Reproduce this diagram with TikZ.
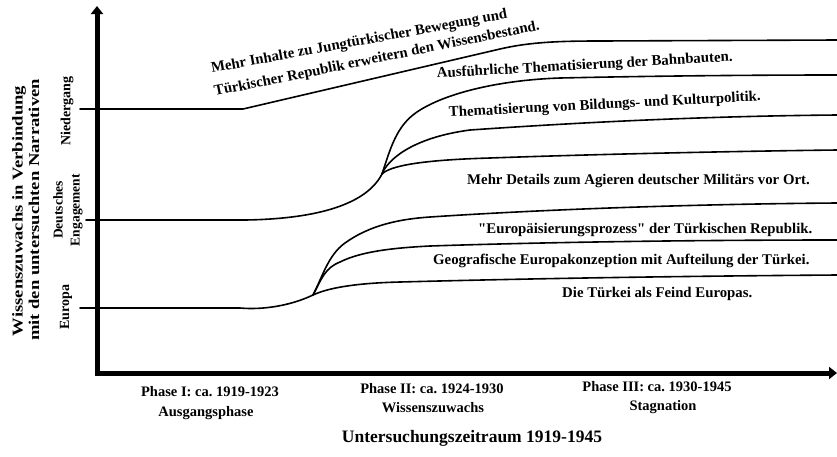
\documentclass[tikz,border=0pt]{standalone}
\usepackage{fontspec}
\setmainfont{Liberation Serif}
\newfontfamily\qfont{Liberation Serif}
\usetikzlibrary{arrows.meta}
\newcommand{\sq}{{\qfont\bfseries"}}
\begin{document}
\frenchspacing
\begin{tikzpicture}[x=1pt,y=-1pt,
  curve/.style={line width=1.6pt, line cap=round, line join=round},
  axisline/.style={line width=5pt},
  lbl/.style={font=\fontsize{14.8}{17}\selectfont\bfseries, inner sep=0pt, anchor=base west},
  phase/.style={font=\fontsize{14.5}{17}\selectfont\bfseries, inner sep=0pt, anchor=base},
  ylbl/.style={font=\fontsize{14}{15}\selectfont\bfseries, inner sep=0pt, rotate=90, align=center},
  ytitle/.style={font=\fontsize{15}{15}\selectfont\bfseries, inner sep=0pt, rotate=90},
]
\useasboundingbox (0,0) rectangle (837,456);
\fill[white] (0,0) rectangle (837,456);

% branch points
\coordinate (B) at (382,174);
\coordinate (C) at (313,295);

% top line (Niedergang)
\draw[curve] (80,109) -- (243,109) -- (500,49) .. controls (530,42) and (560,41) .. (600,41) -- (837,40);

% middle family (Deutsches Engagement)
\draw[curve] (86,220) -- (245,220) .. controls (310,219) and (365,207) .. (B);
\draw[curve] (B) .. controls (390,150) and (396,126) .. (417,112) .. controls (445,93) and (500,80) .. (560,78) .. controls (650,76) and (750,75) .. (837,75);
\draw[curve] (B) .. controls (387,161) and (410,138) .. (470,130) .. controls (600,121) and (720,116) .. (837,115);
\draw[curve] (B) .. controls (390,166) and (420,160) .. (490,158) .. controls (600,154) and (750,151) .. (837,150);

% bottom family (Europa)
\draw[curve] (80,308) -- (240,308) .. controls (262,310) and (290,306) .. (C);
\draw[curve] (C) .. controls (322,278) and (328,255) .. (345,243) .. controls (370,225) and (400,219) .. (430,217) .. controls (550,209) and (700,204) .. (837,203);
\draw[curve] (C) .. controls (322,278) and (325,268) .. (340,262) .. controls (360,252) and (390,248) .. (430,246) .. controls (550,242) and (700,240) .. (837,240);
\draw[curve] (C) .. controls (330,287) and (360,283) .. (400,282) .. controls (550,278) and (700,276) .. (837,275);

% axes
\draw[axisline, {Triangle[length=8pt,width=12pt]}-{Triangle[length=8pt,width=12pt]}] (97,6) -- (97,373) -- (837,373);

% curve labels
\node[lbl, rotate=10.5] (t1) at (212,73) {Mehr Inhalte zu Jungtürkischer Bewegung und};
\node[lbl, rotate=11.5] (t2) at (215,96) {Türkischer Republik erweitern den Wissensbestand.};
\node[lbl, rotate=3.3] (t3) at (437,78) {Ausführliche Thematisierung der Bahnbauten.};
\node[lbl, rotate=3] (t4) at (449,117) {Thematisierung von Bildungs- und Kulturpolitik.};
\node[lbl] (t5) at (467,184) {Mehr Details zum Agieren deutscher Militärs vor Ort.};
\node[lbl] (t6) at (478,233) {\sq Europäisierungsprozess\sq{} der Türkischen Republik.};
\node[lbl] (t7) at (433,264) {Geografische Europakonzeption mit Aufteilung der Türkei.};
\node[lbl] (t8) at (562,297) {Die Türkei als Feind Europas.};

% y labels
\node[ylbl] (yN) at (67,111) {Niedergang};
\node[ylbl, font=\fontsize{13.5}{17}\selectfont\bfseries] (yD) at (68,210) {Deutsches\\Engagement};
\node[ylbl] (yE) at (66,307) {Europa};

\node[ytitle] (yt1) at (19,211) {\scalebox{1.24}[1]{Wissenszuwachs in Verbindung}};
\node[ytitle] (yt2) at (34,210) {\scalebox{1.24}[1]{mit den untersuchten Narrativen}};

% phases
\node[phase] (p1) at (210,396) {Phase I: ca. 1919-1923};
\node[phase] (p1b) at (206,416) {Ausgangsphase};
\node[phase] (p2) at (432,393) {Phase II: ca. 1924-1930};
\node[phase] (p2b) at (433,412) {Wissenszuwachs};
\node[phase] (p3) at (657,391) {Phase III: ca. 1930-1945};
\node[phase] (p3b) at (663,410) {Stagnation};
\node[phase, font=\fontsize{17.5}{20}\selectfont\bfseries] (xt) at (472,442) {Untersuchungszeitraum 1919-1945};
\end{tikzpicture}
\end{document}
